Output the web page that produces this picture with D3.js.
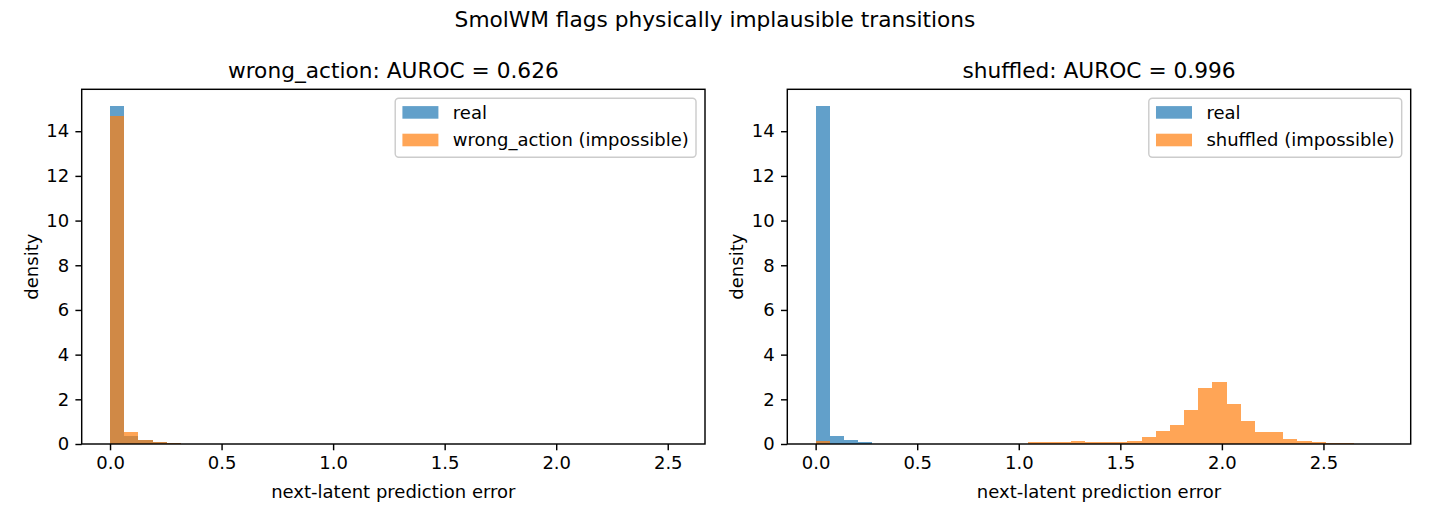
<!DOCTYPE html>
<html>
<head>
<meta charset="utf-8">
<script src="https://cdn.jsdelivr.net/npm/d3@7"></script>
<style>
  body { margin: 0; background: #fff; }
  svg { font-family: "DejaVu Sans", sans-serif; }
</style>
</head>
<body>
<div id="chart"></div>
<script>
// histogram densities, 40 bins per panel
const nBins = 40;
const leftRange = [0, 2.54];
const rightRange = [0, 2.79];

const realLeft = [15.12, 0.38, 0.16, 0.08, 0.03, 0.02, 0.02, 0.01, 0, 0,
  0, 0, 0, 0, 0, 0, 0, 0, 0, 0,
  0, 0, 0, 0, 0, 0, 0, 0, 0, 0,
  0, 0, 0, 0, 0, 0, 0, 0, 0, 0];
const wrongAction = [14.67, 0.52, 0.20, 0.08, 0.03, 0.02, 0.02, 0.02, 0, 0,
  0, 0, 0, 0, 0, 0, 0, 0, 0, 0,
  0, 0, 0, 0, 0, 0, 0, 0, 0, 0,
  0, 0, 0, 0, 0, 0, 0, 0, 0, 0];

const realRight = [15.12, 0.38, 0.16, 0.07, 0.02, 0.01, 0.01, 0.01, 0.01, 0.01,
  0, 0, 0, 0, 0, 0, 0, 0, 0, 0,
  0, 0, 0, 0, 0, 0, 0, 0, 0, 0,
  0, 0, 0, 0, 0, 0, 0, 0, 0, 0];
const shuffled = [0.12, 0.02, 0.02, 0.02, 0.02, 0.02, 0.02, 0.02, 0.02, 0.02,
  0.02, 0.02, 0.02, 0.02, 0.02, 0.08, 0.08, 0.08, 0.12, 0.08,
  0.08, 0.08, 0.15, 0.33, 0.60, 0.87, 1.52, 2.50, 2.77, 1.80,
  1.04, 0.55, 0.55, 0.24, 0.15, 0.08, 0.04, 0.04, 0, 0];

const xTicks = [0, 0.5, 1.0, 1.5, 2.0, 2.5];
const yTicks = [0, 2, 4, 6, 8, 10, 12, 14];

const panels = [
  { title: "wrong_action: AUROC = 0.626", range: leftRange, real: realLeft, bad: wrongAction,
    badLabel: "wrong_action (impossible)", x0: 81.7, x1: 705 },
  { title: "shuffled: AUROC = 0.996", range: rightRange, real: realRight, bad: shuffled,
    badLabel: "shuffled (impossible)", x0: 787.3, x1: 1410.7 }
];

const W = 1430, H = 520;
const plotTop = 89.3, plotBottom = 444;
const blue = "#1f77b4", orange = "#ff7f0e";
const fs = 18;

const svg = d3.select("#chart").append("svg")
  .attr("width", W).attr("height", H);

svg.append("text")
  .attr("x", W / 2).attr("y", 27)
  .attr("text-anchor", "middle")
  .attr("font-size", 21.7)
  .text("SmolWM flags physically implausible transitions");

panels.forEach(p => {
  const step = (p.range[1] - p.range[0]) / nBins;
  const edges = d3.range(nBins).map(i => p.range[0] + i * step);
  const span = p.range[1] - p.range[0];

  const x = d3.scaleLinear()
    .domain([p.range[0] - 0.05 * span, p.range[1] + 0.05 * span])
    .range([p.x0, p.x1]);
  const ymax = d3.max(p.real.concat(p.bad));
  const y = d3.scaleLinear()
    .domain([0, ymax * 1.05])
    .range([plotBottom, plotTop]);

  const g = svg.append("g");

  [[p.real, blue], [p.bad, orange]].forEach(([vals, col]) => {
    g.append("g").selectAll("rect")
      .data(vals.map((v, i) => ({ x: edges[i], v })))
      .join("rect")
      .attr("x", d => x(d.x))
      .attr("width", d => x(d.x + step) - x(d.x))
      .attr("y", d => y(d.v))
      .attr("height", d => y(0) - y(d.v))
      .attr("fill", col)
      .attr("fill-opacity", 0.7)
      .attr("shape-rendering", "crispEdges");
  });

  const xAxis = d3.axisBottom(x).tickValues(xTicks).tickFormat(d3.format(".1f"))
    .tickSize(6.3).tickPadding(6.3);
  const yAxis = d3.axisLeft(y).tickValues(yTicks).tickFormat(d3.format("d"))
    .tickSize(6.3).tickPadding(6.3);

  const gx = g.append("g").attr("transform", `translate(0,${plotBottom})`).call(xAxis);
  const gy = g.append("g").attr("transform", `translate(${p.x0},0)`).call(yAxis);
  [gx, gy].forEach(a => {
    a.select(".domain").remove();
    a.selectAll("line").attr("stroke", "#000").attr("stroke-width", 1.44);
    a.selectAll("text").attr("font-size", fs).attr("fill", "#000")
      .attr("font-family", "DejaVu Sans, sans-serif");
  });

  g.append("rect")
    .attr("x", p.x0).attr("y", plotTop)
    .attr("width", p.x1 - p.x0).attr("height", plotBottom - plotTop)
    .attr("fill", "none").attr("stroke", "#000").attr("stroke-width", 1.44);

  g.append("text")
    .attr("x", (p.x0 + p.x1) / 2).attr("y", 78)
    .attr("text-anchor", "middle").attr("font-size", 21.7)
    .text(p.title);

  g.append("text")
    .attr("x", (p.x0 + p.x1) / 2).attr("y", 498)
    .attr("text-anchor", "middle").attr("font-size", fs)
    .text("next-latent prediction error");

  g.append("text")
    .attr("transform", `translate(${p.x0 - 44},${(plotTop + plotBottom) / 2}) rotate(-90)`)
    .attr("text-anchor", "middle").attr("font-size", fs)
    .text("density");

  // legend
  const items = [["real", blue], [p.badLabel, orange]];
  const leg = g.append("g");
  const frame = leg.append("rect");
  const texts = [];
  items.forEach(([lab, col], i) => {
    const cy = 112.4 + i * 27.6;
    leg.append("rect")
      .attr("x", 0).attr("y", cy - 6.3)
      .attr("width", 36).attr("height", 12.6)
      .attr("fill", col).attr("fill-opacity", 0.7);
    texts.push(leg.append("text")
      .attr("x", 50.4).attr("y", cy).attr("dy", "0.35em")
      .attr("font-size", fs).text(lab));
  });
  const tw = d3.max(texts, t => t.node().getComputedTextLength());
  const lw = 7.2 + 50.4 + tw + 7.2;
  const lx = p.x1 - 9 - lw;
  leg.attr("transform", `translate(${lx + 7.2},0)`);
  frame.attr("x", -7.2).attr("y", 98.3)
    .attr("width", lw).attr("height", 59)
    .attr("rx", 3.5)
    .attr("fill", "#fff").attr("fill-opacity", 0.8)
    .attr("stroke", "#ccc").attr("stroke-width", 1.44);
});
</script>
</body>
</html>
